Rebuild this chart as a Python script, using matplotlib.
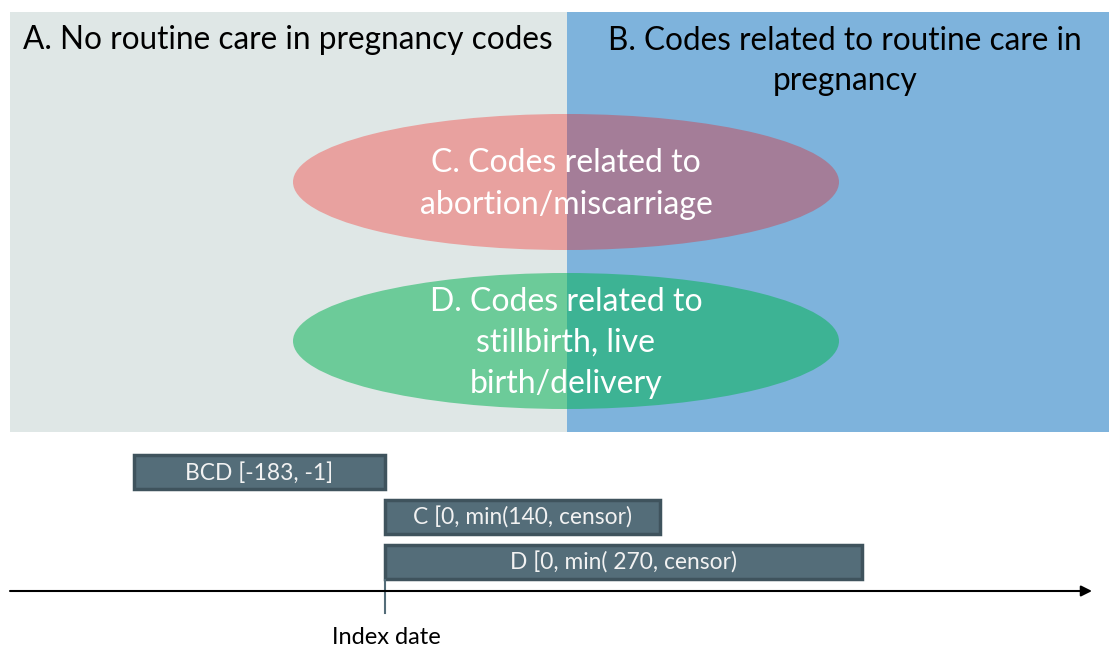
import matplotlib
matplotlib.use("Agg")
import matplotlib.pyplot as plt
from matplotlib.patches import Rectangle, Ellipse

plt.rcParams["font.family"] = ["Lato", "DejaVu Sans"]

# panel headers
panel_labels = ["A. No routine care in pregnancy codes",
                "B. Codes related to routine care in\npregnancy"]
panel_colors = ["#dfe7e6", "#7eb3dc"]

# ellipses: label, color over panel A, color over panel B
ellipse_labels = ["C. Codes related to\nabortion/miscarriage",
                  "D. Codes related to\nstillbirth, live\nbirth/delivery"]
ellipse_left = ["#e8a19f", "#6ccb99"]
ellipse_right = ["#a47d98", "#3db394"]

# observation windows (schematic positions on the timeline)
window_labels = ["BCD [-183, -1]", "C [0, min(140, censor)", "D [0, min( 270, censor)"]
window_start = [134, 385, 385]
window_end = [385, 660, 862]
index_x = 385

W, H = 1109, 647
fig = plt.figure(figsize=(W / 100, H / 100), dpi=100)
ax = fig.add_axes([0, 0, 1, 1])
ax.set_xlim(0, W)
ax.set_ylim(H, 0)
ax.axis("off")

top, bottom = 12, 432
split = 567
rects = [Rectangle((10, top), split - 10, bottom - top, color=panel_colors[0], lw=0),
         Rectangle((split, top), W - split, bottom - top, color=panel_colors[1], lw=0)]
for r in rects:
    ax.add_patch(r)

ax.text(288, 40, panel_labels[0], ha="center", va="center", fontsize=22.7, color="black")
ax.text(845, 61, panel_labels[1], ha="center", va="center", fontsize=22.7,
        color="black", linespacing=1.42)

centers_y = [182, 341]
for i, cy in enumerate(centers_y):
    for j, col in enumerate([ellipse_left[i], ellipse_right[i]]):
        e = Ellipse((566, cy), 546, 136, color=col, lw=0)
        ax.add_patch(e)
        e.set_clip_path(rects[j])
    ax.text(566, cy + 2, ellipse_labels[i], ha="center", va="center", fontsize=23,
            color="white", linespacing=1.46)

bar_y = [455, 500, 545]
bar_h = 34
for lab, x0, x1, y in zip(window_labels, window_start, window_end, bar_y):
    ax.add_patch(Rectangle((x0, y), x1 - x0, bar_h, facecolor="#546d79",
                           edgecolor="#3f535d", lw=2.5))
    ax.text((x0 + x1) / 2, y + bar_h / 2 + 1, lab, ha="center", va="center",
            fontsize=16.4, color="#f2f2f2")

ax.annotate("", xy=(1092, 591), xytext=(10, 591),
            arrowprops=dict(arrowstyle="-|>", color="black", lw=1.5,
                            mutation_scale=16, shrinkA=0, shrinkB=0))
ax.plot([index_x, index_x], [580, 613], color="#546d79", lw=1.5)
ax.text(index_x + 1, 638, "Index date", ha="center", va="center", fontsize=17, color="black")

fig.savefig("out.png", dpi=100)
